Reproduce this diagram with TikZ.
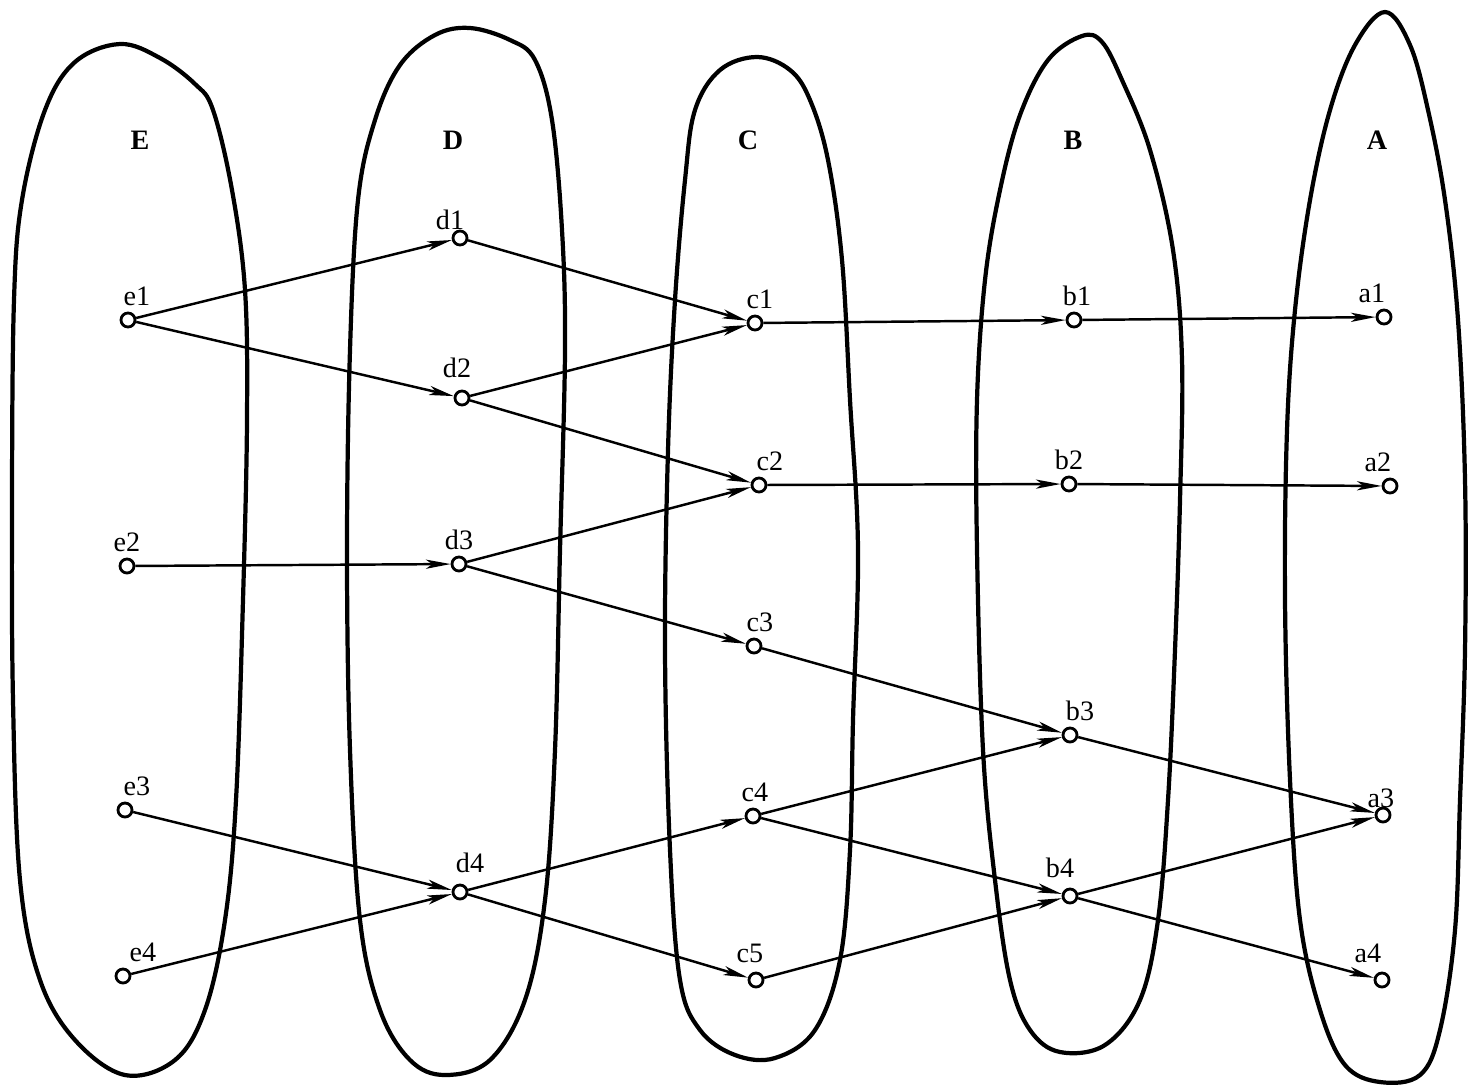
\documentclass[tikz,border=0pt]{standalone}
\usepackage{fontspec}
\setmainfont{Liberation Serif}
\usetikzlibrary{arrows.meta}

\tikzset{
  vtx/.style={circle, draw, line width=0.8pt, fill=white, inner sep=0pt, minimum size=0.14cm},
  lbl/.style={font=\fontsize{8}{9.6}\selectfont, inner sep=1pt, label distance=0.5pt},
  setname/.style={font=\fontsize{8}{9.6}\selectfont\bfseries},
  blob/.style={line width=1.2pt, line join=round},
  arc/.style={line width=0.7pt, -{Stealth[length=7pt,width=2.6pt,inset=1.8pt]}},
}

\begin{document}
\begin{tikzpicture}[x=0.01cm, y=-0.01cm]
    \useasboundingbox (0,0) rectangle (1479,1087);

    % Sets
    \draw[blob] plot[smooth cycle, tension=0.6] coordinates {(120,44) (160,58) (195,84) (213,110) (232,190) (245,290) (247,420) (243,600) (236,800) (225,920) (205,1010) (175,1060) (125,1075) (75,1040) (40,980) (20,880) (13,700) (12,500) (14,300) (22,200) (45,110) (75,62)};
    \draw[blob] plot[smooth cycle, tension=0.6] coordinates {(470,28) (510,40) (535,60) (552,120) (562,230) (565,350) (560,550) (555,750) (545,900) (525,1000) (490,1060) (445,1075) (410,1060) (380,1010) (360,920) (350,750) (347,550) (350,350) (358,200) (375,120) (400,65) (435,35)};
    \draw[blob] plot[smooth cycle, tension=0.6] coordinates {(757,57) (790,70) (810,100) (828,160) (842,260) (850,400) (858,550) (853,720) (850,850) (840,960) (815,1030) (775,1058) (735,1055) (700,1030) (680,980) (670,850) (665,650) (668,450) (675,300) (685,180) (695,110) (720,70)};
    \draw[blob] plot[smooth cycle, tension=0.6] coordinates {(1082,36) (1102,42) (1122,80) (1150,150) (1173,250) (1182,360) (1180,500) (1175,650) (1168,800) (1158,920) (1140,1000) (1105,1045) (1060,1052) (1030,1030) (1010,980) (995,880) (983,750) (977,550) (977,400) (985,280) (1000,190) (1020,115) (1048,60)};
    \draw[blob] plot[smooth cycle, tension=0.6] coordinates {(1385,12) (1410,45) (1428,110) (1445,200) (1458,320) (1465,480) (1465,650) (1460,800) (1455,930) (1440,1030) (1420,1075) (1380,1082) (1345,1065) (1320,1010) (1300,920) (1290,780) (1285,600) (1287,430) (1295,310) (1310,200) (1330,110) (1355,45)};

    % Set names
    \node[setname] (nameE) at (140,140) {E};
    \node[setname] (nameD) at (453,140) {D};
    \node[setname] (nameC) at (748,140) {C};
    \node[setname] (nameB) at (1073,140) {B};
    \node[setname] (nameA) at (1377,140) {A};

    % Elements of E
    \node[vtx, label={[lbl, xshift=0.09cm]above:e1}] (e1) at (128,320) {};
    \node[vtx, label={[lbl]above:e2}] (e2) at (127,566) {};
    \node[vtx, label={[lbl, xshift=0.12cm]above:e3}] (e3) at (125,810) {};
    \node[vtx, label={[lbl, xshift=0.2cm]above:e4}] (e4) at (123,976) {};
    % Elements of D
    \node[vtx, label={[lbl, xshift=-0.1cm, yshift=-0.06cm]above:d1}] (d1) at (460,238) {};
    \node[vtx, label={[lbl, xshift=-0.05cm, yshift=0.06cm]above:d2}] (d2) at (462,398) {};
    \node[vtx, label={[lbl]above:d3}] (d3) at (459,564) {};
    \node[vtx, label={[lbl, xshift=0.1cm, yshift=0.05cm]above:d4}] (d4) at (460,892) {};
    % Elements of C
    \node[vtx, label={[lbl, xshift=0.05cm]above:c1}] (c1) at (755,323) {};
    \node[vtx, label={[lbl, xshift=0.11cm]above:c2}] (c2) at (759,485) {};
    \node[vtx, label={[lbl, xshift=0.06cm]above:c3}] (c3) at (754,646) {};
    \node[vtx, label={[lbl, xshift=0.02cm]above:c4}] (c4) at (753,816) {};
    \node[vtx, label={[lbl, xshift=-0.06cm, yshift=0.03cm]above:c5}] (c5) at (756,980) {};
    % Elements of B
    \node[vtx, label={[lbl, xshift=0.03cm]above:b1}] (b1) at (1074,320) {};
    \node[vtx, label={[lbl]above:b2}] (b2) at (1069,484) {};
    \node[vtx, label={[lbl, xshift=0.1cm]above:b3}] (b3) at (1070,735) {};
    \node[vtx, label={[lbl, xshift=-0.1cm, yshift=0.04cm]above:b4}] (b4) at (1070,896) {};
    % Elements of A
    \node[vtx, label={[lbl, xshift=-0.12cm]above:a1}] (a1) at (1384,317) {};
    \node[vtx, label={[lbl, xshift=-0.12cm]above:a2}] (a2) at (1390,486) {};
    \node[vtx, label={[lbl, xshift=-0.02cm, yshift=-0.07cm]above:a3}] (a3) at (1383,815) {};
    \node[vtx, label={[lbl, xshift=-0.14cm, yshift=0.03cm]above:a4}] (a4) at (1382,980) {};

    % E -> D
    \draw[arc] (e1) -- (d1);
    \draw[arc] (e1) -- (d2);
    \draw[arc] (e2) -- (d3);
    \draw[arc] (e3) -- (d4);
    \draw[arc] (e4) -- (d4);
    % D -> C
    \draw[arc] (d1) -- (c1);
    \draw[arc] (d2) -- (c1);
    \draw[arc] (d2) -- (c2);
    \draw[arc] (d3) -- (c2);
    \draw[arc] (d3) -- (c3);
    \draw[arc] (d4) -- (c4);
    \draw[arc] (d4) -- (c5);
    % C -> B
    \draw[arc] (c1) -- (b1);
    \draw[arc] (c2) -- (b2);
    \draw[arc] (c3) -- (b3);
    \draw[arc] (c4) -- (b3);
    \draw[arc] (c4) -- (b4);
    \draw[arc] (c5) -- (b4);
    % B -> A
    \draw[arc] (b1) -- (a1);
    \draw[arc] (b2) -- (a2);
    \draw[arc] (b3) -- (a3);
    \draw[arc] (b4) -- (a3);
    \draw[arc] (b4) -- (a4);
\end{tikzpicture}
\end{document}
